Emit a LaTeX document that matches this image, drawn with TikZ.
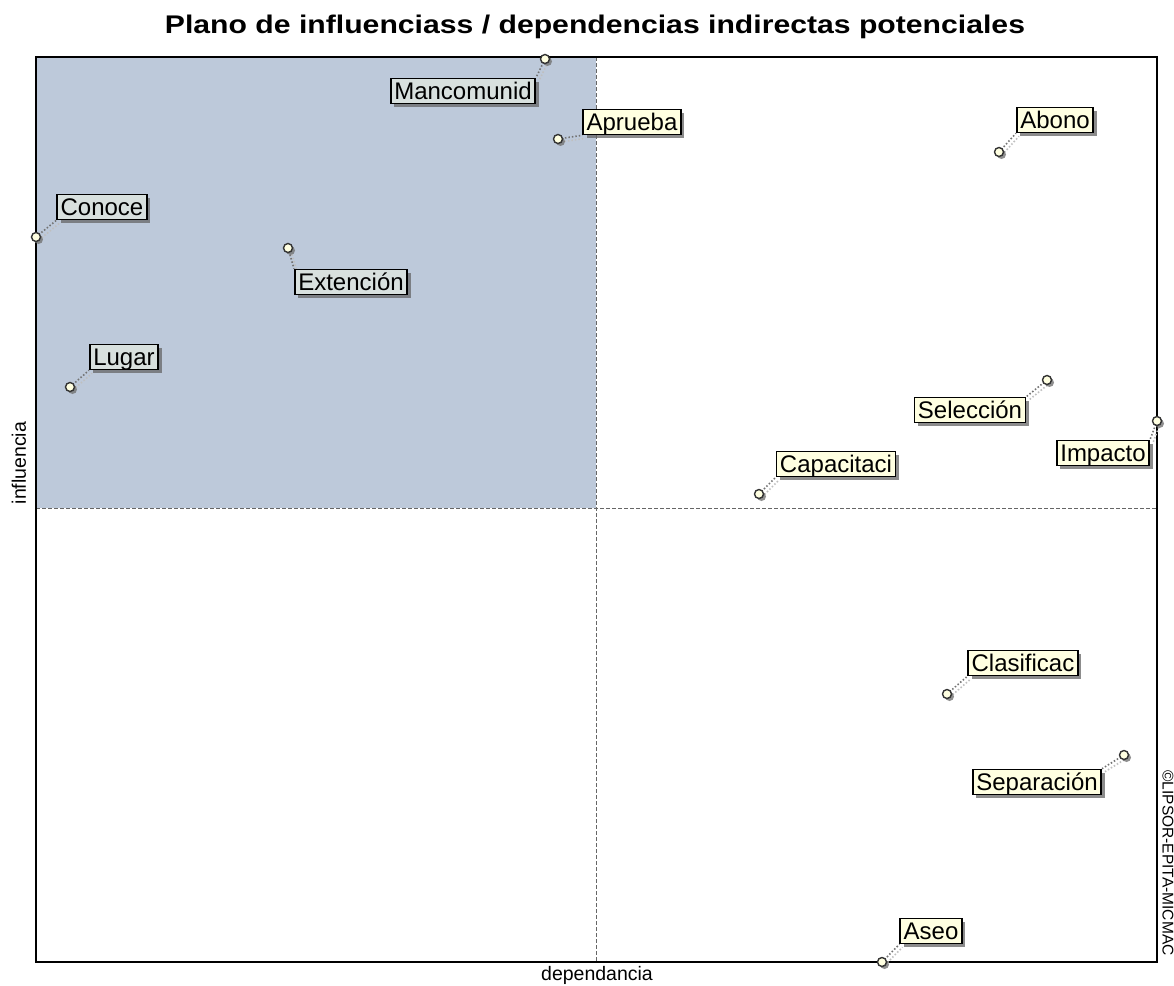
\documentclass[tikz,border=0pt]{standalone}
\usepackage{fontspec}
\setmainfont{Liberation Sans}
\usetikzlibrary{shadows}
\definecolor{quad}{RGB}{189,201,218}
\definecolor{cream}{RGB}{255,255,225}
\definecolor{creamgray}{RGB}{216,224,222}
\pgfdeclarelayer{bg}
\pgfdeclarelayer{lead}
\pgfsetlayers{bg,lead,main}
\tikzset{
  lab/.style={draw=black, line width=1.6pt, fill=cream,
    font=\fontsize{24}{26}\selectfont, text height=19.5pt, text depth=3.5pt,
    inner xsep=3.5pt, inner ysep=1pt,
    drop shadow={shadow xshift=3.5pt, shadow yshift=-3.5pt, fill=black!60, opacity=0.75}},
  labL/.style={lab, fill=creamgray},
  pt/.style={circle, draw=black!80, line width=1.4pt, fill=cream, minimum size=9pt, inner sep=0pt,
    drop shadow={shadow xshift=2.5pt, shadow yshift=-2.5pt, fill=black!55, opacity=0.8}},
  leader/.style={draw=black!55, line width=1.6pt, dash pattern=on 1.5pt off 2pt},
  leadsh/.style={draw=black!25, line width=1.6pt, dash pattern=on 1.5pt off 2pt,
    transform canvas={xshift=3pt, yshift=-3pt}},
  divider/.style={draw=black!60, line width=0.9pt, dash pattern=on 4pt off 2pt},
  axlab/.style={font=\fontsize{19.5}{21}\selectfont, inner sep=0pt}
}
\begin{document}
\begin{tikzpicture}[x=1pt, y=-1pt]
\useasboundingbox (0,0) rectangle (1174,985);

% title
\node[anchor=base, inner sep=0pt] (title) at (595,34)
  {\resizebox{860pt}{18.5pt}{\bfseries Plano de influenciass / dependencias indirectas potenciales}};

% plot frame and quadrant
\coordinate (tl) at (36,57);
\coordinate (br) at (1157,962);
\coordinate (mid) at (596,508);
\begin{pgfonlayer}{bg}
  \fill[white] (0,0) rectangle (1174,985);
  \fill[quad] (tl) rectangle (mid);
  \draw[divider] (596,57) -- (596,962);
  \draw[divider] (36,508) -- (1157,508);
  \draw[black, line width=1.6pt] (tl) rectangle (br);
\end{pgfonlayer}

% axis labels
\node[axlab, rotate=90] (yl) at (19,463) {influencia};
\node[axlab] (xl) at (597,975) {dependancia};
\node[inner sep=0pt, rotate=-90, font=\fontsize{15.5}{17}\selectfont] (copy) at (1168,863) {©LIPSOR-EPITA-MICMAC};

% points
\node[pt] (pMan) at (545,59) {};
\node[pt] (pApr) at (558,139) {};
\node[pt] (pAbo) at (999,152) {};
\node[pt] (pCon) at (36,237) {};
\node[pt] (pExt) at (288,248) {};
\node[pt] (pLug) at (70,387) {};
\node[pt] (pSel) at (1047,380) {};
\node[pt] (pImp) at (1157,421) {};
\node[pt] (pCap) at (759,494) {};
\node[pt] (pCla) at (947,694) {};
\node[pt] (pSep) at (1124,755) {};
\node[pt] (pAse) at (882,962) {};

% labels
\node[labL] (lMan) at (463,91) {Mancomunid};
\node[lab]  (lApr) at (632,122) {Aprueba};
\node[lab]  (lAbo) at (1055,120) {Abono};
\node[labL] (lCon) at (102,207) {Conoce};
\node[labL] (lExt) at (351,282) {Extención};
\node[labL] (lLug) at (124,357) {Lugar};
\node[lab]  (lSel) at (970,410) {Selección};
\node[lab]  (lImp) at (1103,453) {Impacto};
\node[lab]  (lCap) at (836,464) {Capacitaci};
\node[lab]  (lCla) at (1023,663) {Clasificac};
\node[lab]  (lSep) at (1037,782) {Separación};
\node[lab]  (lAse) at (931,931) {Aseo};

% leaders
\begin{pgfonlayer}{lead}
  \foreach \p/\a in {Man/north east, Apr/south west, Abo/south west,
      Con/south west, Ext/north west, Lug/south west, Sel/north east,
      Imp/north east, Cap/south west, Cla/south west, Sep/north east,
      Ase/south west}{
    \draw[leadsh] (p\p.center) -- (l\p.\a);
    \draw[leader] (p\p.center) -- (l\p.\a);
  }
\end{pgfonlayer}
\end{tikzpicture}
\end{document}
